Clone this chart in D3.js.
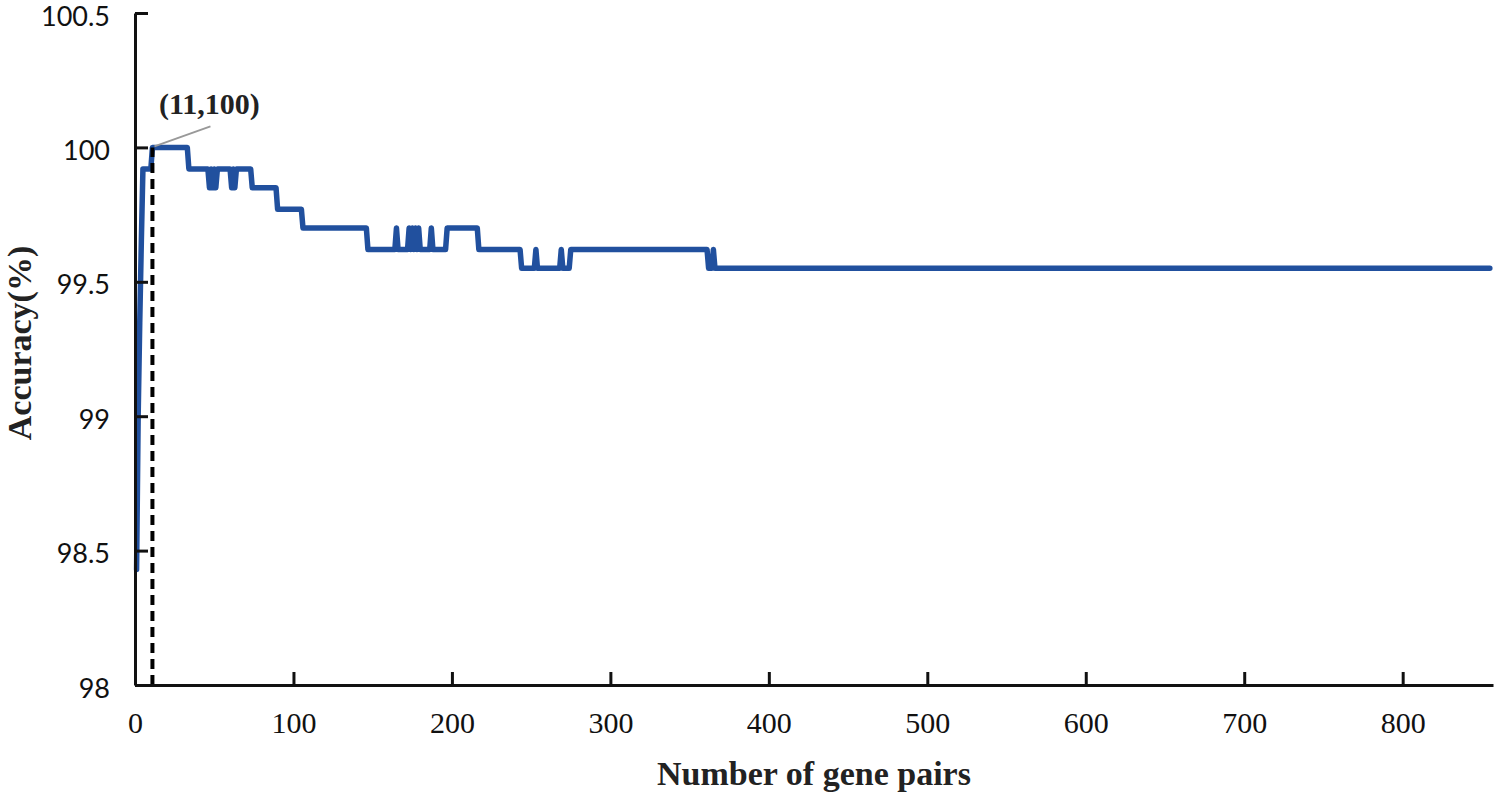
<!DOCTYPE html>
<html>
<head>
<meta charset="utf-8">
<script src="https://cdn.jsdelivr.net/npm/d3@7"></script>
<style>
	html, body {margin: 0; padding: 0; background: #fff;}
	svg {display: block;}
	.y-tick text {font-family: Lato, "Open Sans", sans-serif; font-size: 27px; fill: #111;}
	.x-tick text {font-family: "Liberation Serif", serif; font-size: 30px; fill: #111;}
	.title {font-family: "Liberation Serif", serif; font-weight: bold; font-size: 34px; fill: #222;}
</style>
</head>
<body>
<svg id="chart" width="1500" height="807"></svg>
<script>
// change points of the accuracy curve (number of gene pairs -> accuracy %)
const pairs = [
	1, 2, 3, 4, 5,
	10, 11,
	33, 34,
	46, 47, 48, 49, 50, 51, 52,
	60, 61, 62, 63, 64,
	73, 74,
	89, 90,
	105, 106,
	146, 147,
	164, 165, 166,
	172, 173, 174, 175, 176, 177, 178, 179, 180,
	186, 187, 188,
	196, 197,
	216, 217,
	243, 244,
	252, 253, 254,
	268, 269, 270,
	274, 275,
	361, 362,
	364, 365, 366,
	855
];
const accuracy = [
	98.43, 99.0, 99.35, 99.65, 99.92,
	99.92, 100,
	100, 99.92,
	99.92, 99.85, 99.92, 99.85, 99.92, 99.85, 99.92,
	99.92, 99.85, 99.92, 99.85, 99.92,
	99.92, 99.85,
	99.85, 99.77,
	99.77, 99.70,
	99.70, 99.62,
	99.62, 99.70, 99.62,
	99.62, 99.70, 99.62, 99.70, 99.62, 99.70, 99.62, 99.70, 99.62,
	99.62, 99.70, 99.62,
	99.62, 99.70,
	99.70, 99.62,
	99.62, 99.55,
	99.55, 99.62, 99.55,
	99.55, 99.62, 99.55,
	99.55, 99.62,
	99.62, 99.55,
	99.55, 99.62, 99.55,
	99.55
];
const xTicks = [0, 100, 200, 300, 400, 500, 600, 700, 800];
const yTicks = [98, 98.5, 99, 99.5, 100, 100.5];
const peak = {pairs: 11, accuracy: 100, label: "(11,100)"};

const data = pairs.map((p, i) => ({pairs: p, value: accuracy[i]}));

const svg = d3.select("#chart");
const plot = {left: 135, right: 1493, top: 13, bottom: 685};
const tickSize = 13;

const x = d3.scaleLinear().domain([0, 857]).range([plot.left, plot.right]);
const y = d3.scaleLinear().domain([98, 100.5]).range([plot.bottom, plot.top]);

// curve
const line = d3.line()
.x((d) => x(d.pairs))
.y((d) => y(d.value));

svg.append("path")
.datum(data)
.attr("d", line)
.attr("fill", "none")
.attr("stroke", "#21509e")
.attr("stroke-width", 5.5)
.attr("stroke-linejoin", "round")
.attr("stroke-linecap", "round");

// dashed marker at the peak
svg.append("line")
.attr("x1", x(peak.pairs))
.attr("x2", x(peak.pairs))
.attr("y1", y(98))
.attr("y2", y(peak.accuracy))
.attr("stroke", "#000")
.attr("stroke-width", 4)
.attr("stroke-dasharray", "10,6");

// axes, ticks pointing inward
const xAxis = d3.axisBottom(x)
.tickValues(xTicks)
.tickSizeInner(-tickSize)
.tickSizeOuter(0)
.tickPadding(27);

const yAxis = d3.axisLeft(y)
.tickValues(yTicks)
.tickSizeInner(-tickSize)
.tickSizeOuter(0)
.tickPadding(25)
.tickFormat((d) => String(d));

const gx = svg.append("g")
.attr("class", "x-tick")
.attr("transform", `translate(0, ${plot.bottom})`)
.call(xAxis);

const gy = svg.append("g")
.attr("class", "y-tick")
.attr("transform", `translate(${plot.left}, 0)`)
.call(yAxis);

[gx, gy].forEach((g) => {
	g.select(".domain").attr("stroke", "#111").attr("stroke-width", 3);
	g.selectAll(".tick line").attr("stroke", "#111").attr("stroke-width", 3);
	g.selectAll(".tick text").attr("font-family", null).attr("font-size", null);
});
gx.selectAll(".tick").filter((d) => d === 0).select("line").remove();
gy.selectAll(".tick text").attr("dy", "0.45em");

// annotation
svg.append("line")
.attr("x1", x(peak.pairs) + 2)
.attr("y1", y(peak.accuracy) - 1)
.attr("x2", x(peak.pairs) + 58)
.attr("y2", y(peak.accuracy) - 21)
.attr("stroke", "#999")
.attr("stroke-width", 2);

svg.append("text")
.attr("class", "title")
.attr("x", x(peak.pairs) + 57)
.attr("y", y(peak.accuracy) - 33)
.attr("text-anchor", "middle")
.style("font-size", "30px")
.text(peak.label);

// axis titles
svg.append("text")
.attr("class", "title")
.attr("x", 814)
.attr("y", 785)
.attr("text-anchor", "middle")
.text("Number of gene pairs");

svg.append("text")
.attr("class", "title")
.attr("transform", "translate(31, 343) rotate(-90)")
.attr("text-anchor", "middle")
.text("Accuracy(%)");
</script>
</body>
</html>
